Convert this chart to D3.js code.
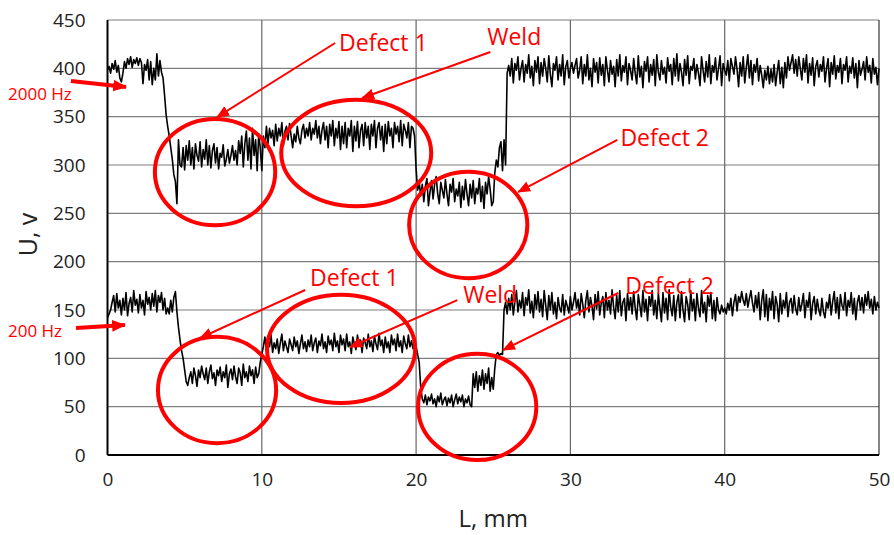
<!DOCTYPE html>
<html>
<head>
<meta charset="utf-8">
<script src="https://cdn.jsdelivr.net/npm/d3@7"></script>
<style>
  body { margin: 0; background: #fff; }
  svg { display: block; font-family: "Open Sans", "Noto Sans", sans-serif; }
</style>
</head>
<body>
<svg id="chart" width="894" height="535"></svg>
<script>
// --- data: voltage U (v) along the sample L (mm), one reading every 0.1 mm ---
const xStart = 0;
const xStep = 0.1;

// 2000 Hz trace
const u2000 = [
  398, 402, 395, 405, 399, 408, 396, 403, 390, 386,
  395, 407, 400, 410, 404, 412, 401, 409, 405, 411,
  403, 410, 406, 384, 404, 398, 409, 388, 407, 383,
  400, 388, 415, 392, 408, 396, 390, 372, 352, 340,
  330, 318, 306, 290, 283, 260, 326, 300, 298, 318,
  295, 320, 305, 325, 300, 318, 296, 322, 310, 304,
  324, 298, 316, 306, 326, 300, 320, 297, 315, 322,
  302, 318, 296, 312, 308, 321, 299, 306, 316, 302,
  310, 320, 305, 315, 300, 325, 312, 330, 298, 322,
  335, 305, 328, 296, 338, 310, 326, 294, 332, 318,
  294, 330, 318, 340, 322, 338, 328, 336, 320, 342,
  325, 338, 330, 344, 320, 335, 340, 326, 343, 330,
  318, 332, 324, 340, 328, 322, 336, 342, 328, 338,
  330, 344, 326, 338, 332, 346, 328, 340, 322, 336,
  344, 326, 340, 318, 342, 330, 346, 320, 338, 328,
  345, 316, 340, 322, 344, 318, 338, 330, 346, 314,
  340, 325, 345, 318, 336, 342, 320, 344, 328, 340,
  316, 342, 330, 346, 318, 338, 344, 326, 340, 314,
  342, 322, 345, 330, 338, 318, 344, 332, 340, 324,
  346, 320, 342, 336, 328, 344, 318, 340, 338, 330,
  296, 274, 282, 268, 280, 262, 278, 286, 258, 272,
  284, 265, 280, 288, 270, 260, 282, 274, 266, 285,
  270, 258, 280, 272, 286, 262, 275, 268, 282, 256,
  278, 264, 285, 270, 258, 280, 266, 284, 260, 276,
  270, 286, 262, 278, 255, 282, 270, 288, 275, 258,
  262, 292, 305, 298, 318, 324, 294, 326, 300, 395,
  403, 392, 410, 385, 405, 398, 412, 388, 400, 408,
  386, 404, 395, 414, 390, 402, 382, 408, 396, 412,
  384, 406, 392, 410, 400, 386, 413, 394, 381, 405,
  398, 412, 388, 404, 392, 414, 383, 402, 408, 390,
  400, 406, 395, 403, 410, 390, 398, 412, 384, 404,
  392, 414, 388, 400, 381, 410, 396, 406, 385, 411,
  393, 404, 382, 412, 398, 386, 408, 394, 402, 381,
  409, 392, 414, 387, 403, 396, 412, 383, 405, 398,
  388, 410, 395, 384, 413, 391, 402, 380, 407, 397,
  412, 386, 404, 393, 409, 382, 414, 396, 388, 408,
  394, 401, 385, 411, 397, 404, 383, 410, 392, 415,
  387, 405, 396, 382, 409, 393, 413, 384, 402, 398,
  410, 389, 404, 395, 382, 412, 398, 386, 407, 391,
  414, 384, 403, 396, 411, 388, 400, 413, 382, 405,
  398, 393, 408, 387, 410, 402, 394, 412, 399, 381,
  406, 392, 412, 385, 401, 414, 390, 408, 383, 404,
  396, 410, 387, 403, 393, 380, 398, 388, 402, 384,
  399, 386, 404, 382, 396, 408, 384, 401, 380, 406,
  390, 412, 398, 406, 414, 395, 409, 392, 412, 400,
  388, 410, 396, 414, 385, 405, 393, 411, 382, 402,
  408, 391, 404, 397, 412, 386, 400, 410, 381, 406,
  394, 413, 389, 403, 396, 410, 384, 404, 398, 412,
  386, 402, 395, 411, 390, 405, 380, 408, 393, 399,
  407, 388, 412, 396, 403, 385, 410, 394, 401, 383,
  400
];

// 200 Hz trace
const u200 = [
  142, 146, 150, 158, 165, 148, 167, 152, 160, 145,
  162, 150, 168, 144, 157, 163, 148, 170, 155, 161,
  147, 166, 152, 160, 145, 169, 156, 163, 150, 167,
  154, 170, 148, 165, 158, 168, 150, 162, 146, 152,
  146, 160, 148, 163, 169, 148, 132, 119, 108, 100,
  88, 76, 72, 80, 86, 74, 90, 82, 71, 88,
  80, 92, 84, 78, 90, 74, 86, 93, 79, 85,
  72, 88, 82, 91, 76, 86, 80, 93, 70, 84,
  89, 78, 92, 81, 74, 90, 85, 72, 94, 80,
  86, 76, 92, 82, 88, 74, 91, 80, 84, 96,
  104, 112, 122, 108, 118, 112, 124, 106, 116, 110,
  120, 105, 116, 125, 108, 118, 112, 106, 120, 114,
  108, 122, 112, 118, 105, 115, 124, 110, 117, 107,
  119, 112, 124, 108, 116, 121, 106, 118, 113, 125,
  110, 117, 106, 123, 114, 119, 108, 126, 112, 118,
  106, 124, 114, 120, 108, 125, 112, 117, 105, 122,
  115, 109, 124, 113, 119, 106, 121, 116, 110, 125,
  112, 118, 107, 123, 115, 109, 126, 113, 119, 106,
  122, 111, 117, 106, 124, 114, 120, 108, 125, 112,
  118, 106, 123, 115, 110, 124, 112, 118, 110, 116,
  112, 104, 96, 70, 58, 54, 62, 52, 60, 56,
  63, 53, 58, 50, 61, 55, 64, 52, 57, 60,
  51, 59, 54, 62, 50, 57, 63, 53, 60, 55,
  62, 50, 58, 54, 61, 52, 50, 84, 70, 86,
  66, 82, 72, 88, 68, 84, 74, 90, 66, 80,
  68, 90, 104, 106, 103, 105, 104, 150, 158, 146,
  162, 150, 166, 145, 158, 170, 148, 160, 152, 168,
  144, 163, 155, 171, 147, 159, 142, 166, 151, 169,
  148, 161, 143, 170, 155, 140, 165, 150, 168, 146,
  158, 141, 163, 152, 148, 166, 145, 160, 154, 147,
  164, 150, 158, 168, 152, 161, 145, 167, 156, 142,
  160, 170, 148, 163, 154, 140, 166, 151, 169, 145,
  157, 164, 142, 168, 150, 160, 146, 171, 153, 141,
  165, 148, 170, 144, 158, 162, 139, 167, 150, 163,
  146, 169, 152, 140, 166, 155, 143, 170, 148, 161,
  139, 164, 154, 170, 145, 160, 141, 167, 152, 138,
  168, 147, 162, 140, 171, 153, 144, 165, 139, 158,
  166, 142, 169, 150, 138, 164, 156, 140, 170, 149,
  161, 139, 167, 152, 143, 170, 147, 158, 138, 165,
  154, 168, 141, 160, 139, 163, 150, 146, 155, 148,
  152, 146, 157, 150, 162, 144, 158, 166, 149, 164,
  158, 169, 160, 155, 167, 153, 162, 170, 157, 148,
  165, 152, 168, 140, 160, 171, 143, 166, 139, 162,
  150, 169, 141, 164, 156, 138, 167, 146, 160, 152,
  168, 143, 158, 162, 147, 165, 151, 145, 163, 149,
  156, 167, 142, 160, 153, 168, 140, 157, 164, 146,
  161, 150, 144, 162, 148, 142, 158, 152, 166, 145,
  159, 169, 147, 163, 141, 166, 155, 150, 168, 144,
  160, 153, 168, 146, 162, 140, 158, 165, 150, 163,
  147, 166, 155, 169, 152, 161, 146, 164, 150, 158,
  152
];

const xTicks = [0, 10, 20, 30, 40, 50];
const yTicks = [0, 50, 100, 150, 200, 250, 300, 350, 400, 450];

// annotations, in chart units (mm, v)
const rings = [
  { cx: 6.97,  cy: 292.7, rx: 3.90, ry: 55 },
  { cx: 16.12, cy: 312.4, rx: 4.86, ry: 55 },
  { cx: 23.38, cy: 237.9, rx: 3.83, ry: 55 },
  { cx: 7.10,  cy: 67.2,  rx: 3.83, ry: 55 },
  { cx: 15.14, cy: 109.7, rx: 4.80, ry: 56 },
  { cx: 23.96, cy: 49.7,  rx: 3.83, ry: 55 }
];
const labels = [
  { text: "Defect 1", x: 15.01, y: 417.9 },
  { text: "Weld",     x: 24.61, y: 424.1 },
  { text: "Defect 2", x: 33.24, y: 319.6 },
  { text: "Defect 1", x: 13.13, y: 174.8 },
  { text: "Weld",     x: 23.05, y: 157.2 },
  { text: "Defect 2", x: 33.56, y: 166.5 }
];
const pointers = [
  { x1: 14.75, y1: 426.2, x2: 7.10,  y2: 349.5 },
  { x1: 24.81, y1: 416.9, x2: 16.50, y2: 369.3 },
  { x1: 33.04, y1: 325.9, x2: 26.62, y2: 272.1 },
  { x1: 12.81, y1: 170.7, x2: 6.00,  y2: 121.0 },
  { x1: 22.67, y1: 160.3, x2: 15.73, y2: 111.7 },
  { x1: 33.10, y1: 167.6, x2: 25.64, y2: 108.6 }
];
const freqLabels = [
  { text: "2000 Hz", x: -6.45, y: 367.2 },
  { text: "200 Hz",  x: -6.45, y: 122.1 }
];
const freqPointers = [
  { x1: -2.37, y1: 386.9, x2: 1.20, y2: 380.7 },
  { x1: -2.04, y1: 131.4, x2: 1.13, y2: 134.4 }
];

// --- layout ---
const width = 894, height = 535;
const margin = { top: 20, right: 15, bottom: 80, left: 107.5 };
const red = "#ff0000";

const svg = d3.select("#chart");

const x = d3.scaleLinear().domain([0, 50]).range([margin.left, width - margin.right]);
const y = d3.scaleLinear().domain([0, 450]).range([height - margin.bottom, margin.top]);

// grid
svg.append("g")
  .selectAll("line")
  .data(yTicks.filter(d => d > 0))
  .join("line")
  .attr("x1", x(0)).attr("x2", x(50))
  .attr("y1", d => y(d)).attr("y2", d => y(d))
  .attr("stroke", "#7f7f7f").attr("stroke-width", 1.2);

svg.append("g")
  .selectAll("line")
  .data(xTicks.filter(d => d > 0))
  .join("line")
  .attr("x1", d => x(d)).attr("x2", d => x(d))
  .attr("y1", y(0)).attr("y2", y(450))
  .attr("stroke", d => d === 50 ? "#333" : "#666").attr("stroke-width", 1.2);

// axes (labels only, lines drawn by hand below)
const xAxis = svg.append("g")
  .attr("transform", `translate(0,${y(0)})`)
  .call(d3.axisBottom(x).tickValues(xTicks).tickSize(0).tickPadding(22));
const yAxis = svg.append("g")
  .attr("transform", `translate(${x(0)},0)`)
  .call(d3.axisLeft(y).tickValues(yTicks).tickSize(0).tickPadding(22));

[xAxis, yAxis].forEach(g => {
  g.select(".domain").remove();
  g.selectAll("text")
    .attr("fill", "#222")
    .style("font-size", "19px")
    .style("font-family", "'Open Sans', sans-serif");
});
xAxis.selectAll("text").attr("dy", "0.45em");

svg.append("line")
  .attr("x1", x(0)).attr("x2", x(0)).attr("y1", y(450)).attr("y2", y(0))
  .attr("stroke", "#000").attr("stroke-width", 2);
svg.append("line")
  .attr("x1", x(0)).attr("x2", x(50)).attr("y1", y(0)).attr("y2", y(0))
  .attr("stroke", "#000").attr("stroke-width", 2);

// traces
const line = d3.line()
  .x((d, i) => x(xStart + i * xStep))
  .y(d => y(d));

[u2000, u200].forEach(series => {
  svg.append("path")
    .datum(series)
    .attr("d", line)
    .attr("fill", "none")
    .attr("stroke", "#000")
    .attr("stroke-width", 1.6)
    .attr("stroke-linejoin", "round");
});

// axis titles
svg.append("text")
  .attr("x", (x(0) + x(50)) / 2)
  .attr("y", 527)
  .attr("text-anchor", "middle")
  .attr("fill", "#222")
  .style("font-size", "24px")
  .text("L, mm");

svg.append("text")
  .attr("transform", `translate(37,${(y(0) + y(450)) / 2 - 3}) rotate(-90)`)
  .attr("text-anchor", "middle")
  .attr("fill", "#222")
  .style("font-size", "25px")
  .text("U, v");

// arrow heads
const defs = svg.append("defs");
defs.append("marker")
  .attr("id", "head")
  .attr("markerUnits", "userSpaceOnUse")
  .attr("viewBox", "0 0 12 10")
  .attr("refX", 11).attr("refY", 5)
  .attr("markerWidth", 13).attr("markerHeight", 11)
  .attr("orient", "auto")
  .append("path").attr("d", "M0,0 L12,5 L0,10 Z").attr("fill", red);
defs.append("marker")
  .attr("id", "headBig")
  .attr("markerUnits", "userSpaceOnUse")
  .attr("viewBox", "0 0 12 10")
  .attr("refX", 11).attr("refY", 5)
  .attr("markerWidth", 14).attr("markerHeight", 12)
  .attr("orient", "auto")
  .append("path").attr("d", "M0,0 L12,5 L0,10 Z").attr("fill", red);

// red annotations
svg.append("g")
  .selectAll("ellipse")
  .data(rings)
  .join("ellipse")
  .attr("cx", d => x(d.cx))
  .attr("cy", d => y(d.cy))
  .attr("rx", d => x(d.cx + d.rx) - x(d.cx))
  .attr("ry", d => y(d.cy) - y(d.cy + d.ry))
  .attr("fill", "none")
  .attr("stroke", red)
  .attr("stroke-width", 4);

svg.append("g")
  .selectAll("line")
  .data(pointers)
  .join("line")
  .attr("x1", d => x(d.x1)).attr("y1", d => y(d.y1))
  .attr("x2", d => x(d.x2)).attr("y2", d => y(d.y2))
  .attr("stroke", red)
  .attr("stroke-width", 2)
  .attr("marker-end", "url(#head)");

svg.append("g")
  .selectAll("line")
  .data(freqPointers)
  .join("line")
  .attr("x1", d => x(d.x1)).attr("y1", d => y(d.y1))
  .attr("x2", d => x(d.x2)).attr("y2", d => y(d.y2))
  .attr("stroke", red)
  .attr("stroke-width", 4)
  .attr("marker-end", "url(#headBig)");

svg.append("g")
  .selectAll("text")
  .data(labels)
  .join("text")
  .attr("x", d => x(d.x))
  .attr("y", d => y(d.y))
  .attr("fill", red)
  .style("font-size", "23px")
  .text(d => d.text);

svg.append("g")
  .selectAll("text")
  .data(freqLabels)
  .join("text")
  .attr("x", d => x(d.x))
  .attr("y", d => y(d.y))
  .attr("fill", red)
  .style("font-size", "17px")
  .text(d => d.text);
</script>
</body>
</html>
